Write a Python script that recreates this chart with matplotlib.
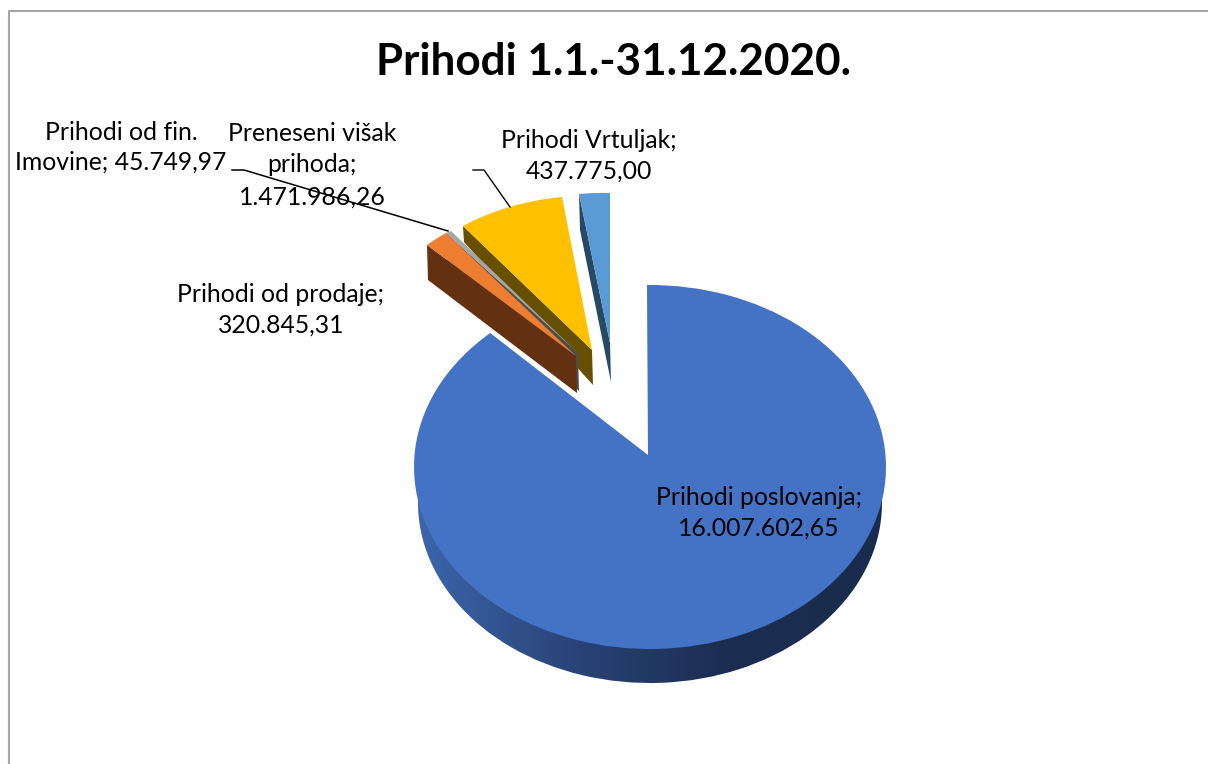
import numpy as np
import matplotlib
matplotlib.use("Agg")
from matplotlib import pyplot as plt
from matplotlib.colors import LinearSegmentedColormap
from matplotlib.patches import Polygon
from matplotlib.transforms import Affine2D

plt.rcParams['font.family'] = ['Lato', 'DejaVu Sans']

W, H = 1208, 764

title = "Prihodi 1.1.-31.12.2020."
categories = ["Prihodi poslovanja", "Prihodi od prodaje", "Prihodi od fin.\nImovine",
              "Preneseni višak\nprihoda", "Prihodi Vrtuljak"]
values = [16007602.65, 320845.31, 45749.97, 1471986.26, 437775.00]
value_labels = ["16.007.602,65", "320.845,31", "45.749,97", "1.471.986,26", "437.775,00"]
top_colors = ["#4472c4", "#ed7d31", "#a5a5a5", "#ffc000", "#5b9bd5"]
side_colors = ["#1b2d50", "#633112", "#4d4d4d", "#665000", "#264a66"]

# where the exploded slices sit on the page: apex, left end of arc, right end of arc,
# drop of the side at the left end and at the apex (perspective makes them differ)
slice_place = {
    1: ((576, 356), (427, 245), (446, 233), 35, 37),
    2: ((578, 353), (446, 233), (451, 231), 30, 38),
    3: ((592, 350), (463, 226), (562, 197), 16, 35),
    4: ((610, 343), (579, 194), (610, 193), 36, 39),
}
main_c, main_r = (650, 467), (236, 182)
main_apex = (648, 455)
low_c, low_r = (650, 503), (232, 180)

label_place = [(759, 513), (281, 310), (121, 147), (312, 165), (589, 156)]
label_seps = ["\n", "\n", " ", "\n", "\n"]
label_spacing = [1.42, 1.42, 1.36, 1.46, 1.42]
FS = 17.8


def unit(deg):
    return np.array([np.cos(np.radians(deg)), np.sin(np.radians(deg))])


def slice_transform(theta1, theta2, apex, left, right):
    # affine map that puts a unit-circle wedge onto the page
    basis = np.column_stack([unit(theta2), unit(theta1)])
    target = np.column_stack([np.subtract(left, apex), np.subtract(right, apex)])
    a = target @ np.linalg.inv(basis)
    return Affine2D(np.array([[a[0, 0], a[0, 1], apex[0]],
                              [a[1, 0], a[1, 1], apex[1]],
                              [0, 0, 1]]))


fig = plt.figure(figsize=(W / 100, H / 100), dpi=100)
ax = fig.add_axes([0, 0, 1, 1])

# side of the big slice, a gradient clipped to a lower copy of the wedge
side_wedges, _ = ax.pie(values, startangle=90, counterclock=False, colors=side_colors,
                        wedgeprops={"linewidth": 0})
wedges, _ = ax.pie(values, startangle=90, counterclock=False, colors=top_colors,
                   wedgeprops={"linewidth": 0})
ax.set_aspect("auto")
ax.set_xlim(0, W)
ax.set_ylim(H, 0)
ax.axis("off")

for w in side_wedges[1:]:
    w.set_visible(False)

side_cmap = LinearSegmentedColormap.from_list("side", ["#3d66ad", "#2a4478", "#1b2d50", "#1a2c4e"])
grad = ax.imshow(np.linspace(0, 1, 256)[None, :], cmap=side_cmap, aspect="auto",
                 extent=(414, 886, 690, 440), zorder=0.5)
ax.set_xlim(0, W)
ax.set_ylim(H, 0)
low_t = Affine2D().scale(low_r[0], -low_r[1]).translate(*low_c) + ax.transData
side_wedges[0].set_transform(low_t)
side_wedges[0].set_facecolor("none")
grad.set_clip_path(side_wedges[0].get_path(), low_t)

# top of the big slice: perspective turns the angles a little and pulls the apex up
main = wedges[0]
verts = main.get_path().vertices
radius = np.hypot(verts[:, 0], verts[:, 1])
near_centre = radius < 1e-6
phi = np.mod(np.pi / 2 - np.arctan2(verts[:, 1], verts[:, 0]), 2 * np.pi)
phi[phi > 6.2] -= 2 * np.pi
phi = np.radians(-0.73) + phi * 1.0093
verts[:, 0] = radius * np.sin(phi)
verts[:, 1] = radius * np.cos(phi)
verts[near_centre] = [(main_apex[0] - main_c[0]) / main_r[0],
                      -(main_apex[1] - main_c[1]) / main_r[1]]
main.set_transform(Affine2D().scale(main_r[0], -main_r[1]).translate(*main_c) + ax.transData)
main.set_zorder(1)

# exploded slices, back to front: orange sits in front of the grey side
for order, i in enumerate([4, 3, 2, 1]):
    w = wedges[i]
    apex, left, right, d_left, d_apex = slice_place[i]
    w.set_transform(slice_transform(w.theta1, w.theta2, apex, left, right) + ax.transData)
    w.set_zorder(2 + order * 0.2 + 0.1)
    side = Polygon([left, apex, (apex[0] + 1, apex[1] + d_apex), (left[0] + 1, left[1] + d_left)],
                   closed=True, facecolor=side_colors[i], edgecolor="none", zorder=2 + order * 0.2)
    ax.add_patch(side)

ax.text(614, 62, title, ha="center", va="center", fontsize=31.7, fontweight="bold", color="black")

for name, val, sep, sp, (x, y) in zip(categories, value_labels, label_seps, label_spacing, label_place):
    ax.text(x, y, name + ";" + sep + val, ha="center", va="center", fontsize=FS,
            color="black", linespacing=sp, zorder=5)

ax.plot([232, 244, 448], [170, 170, 231], color="black", lw=1.1, zorder=6)
ax.plot([473, 484, 510], [170, 170, 207], color="black", lw=1.0, zorder=6)

# chart frame
ax.plot([8.5, 8.5, W], [H, 10.5, 10.5], color="#a6a6a6", lw=1.5, zorder=6, clip_on=False)

fig.savefig("out.png", dpi=100, facecolor="white")
